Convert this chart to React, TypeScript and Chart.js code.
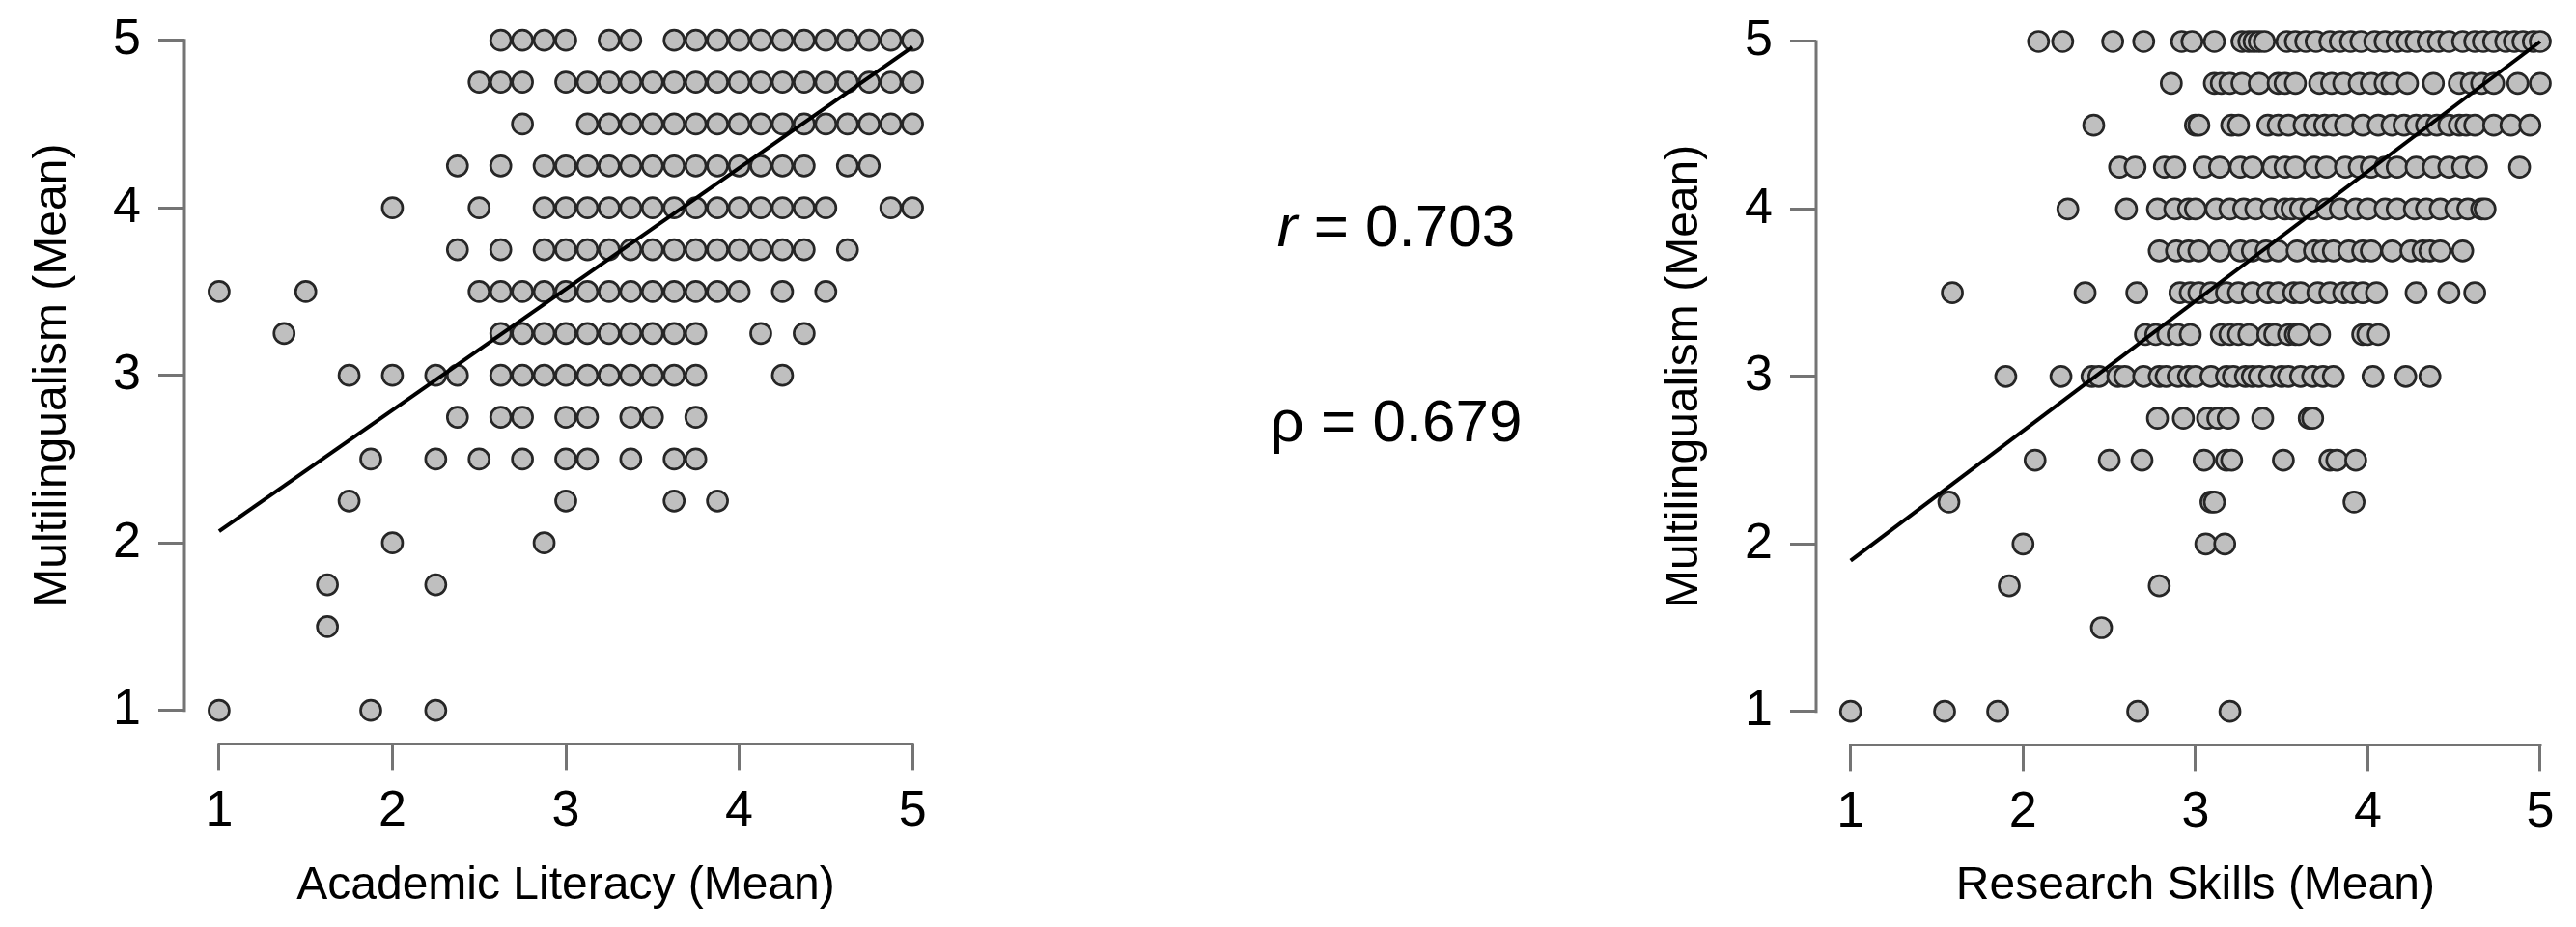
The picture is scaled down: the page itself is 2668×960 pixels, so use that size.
import React, { useEffect, useRef } from 'react';
import { Chart, registerables } from 'chart.js';

Chart.register(...registerables);

const FONT = '"Liberation Sans", Arial, Helvetica, sans-serif';

// Multilingualism (Mean) levels — one row of points per level
const multilingualismLevels = [5, 4.75, 4.5, 4.25, 4, 3.75, 3.5, 3.25, 3, 2.75, 2.5, 2.25, 2, 1.75, 1.5, 1.25, 1];

// Academic Literacy (Mean) values for each multilingualism level (left panel)
const academicLiteracyByLevel: number[][] = [
  [2.625, 2.75, 2.875, 3.0, 3.25, 3.375, 3.625, 3.75, 3.875, 4.0, 4.125, 4.25, 4.375, 4.5, 4.625, 4.75, 4.875, 5.0],
  [2.5, 2.625, 2.75, 3.0, 3.125, 3.25, 3.375, 3.5, 3.625, 3.75, 3.875, 4.0, 4.125, 4.25, 4.375, 4.5, 4.625, 4.75, 4.875, 5.0],
  [2.75, 3.125, 3.25, 3.375, 3.5, 3.625, 3.75, 3.875, 4.0, 4.125, 4.25, 4.375, 4.5, 4.625, 4.75, 4.875, 5.0],
  [2.375, 2.625, 2.875, 3.0, 3.125, 3.25, 3.375, 3.5, 3.625, 3.75, 3.875, 4.0, 4.125, 4.25, 4.375, 4.625, 4.75],
  [2.0, 2.5, 2.875, 3.0, 3.125, 3.25, 3.375, 3.5, 3.625, 3.75, 3.875, 4.0, 4.125, 4.25, 4.375, 4.5, 4.875, 5.0],
  [2.375, 2.625, 2.875, 3.0, 3.125, 3.25, 3.375, 3.5, 3.625, 3.75, 3.875, 4.0, 4.125, 4.25, 4.375, 4.625],
  [1.0, 1.5, 2.5, 2.625, 2.75, 2.875, 3.0, 3.125, 3.25, 3.375, 3.5, 3.625, 3.75, 3.875, 4.0, 4.25, 4.5],
  [1.375, 2.625, 2.75, 2.875, 3.0, 3.125, 3.25, 3.375, 3.5, 3.625, 3.75, 4.125, 4.375],
  [1.75, 2.0, 2.25, 2.375, 2.625, 2.75, 2.875, 3.0, 3.125, 3.25, 3.375, 3.5, 3.625, 3.75, 4.25],
  [2.375, 2.625, 2.75, 3.0, 3.125, 3.375, 3.5, 3.75],
  [1.875, 2.25, 2.5, 2.75, 3.0, 3.125, 3.375, 3.625, 3.75],
  [1.75, 3.0, 3.625, 3.875],
  [2.0, 2.875],
  [1.625, 2.25],
  [1.625],
  [],
  [1.0, 1.875, 2.25],
];

// Research Skills (Mean) values for each multilingualism level (right panel)
const researchSkillsByLevel: number[][] = [
  [2.09, 2.23, 2.52, 2.7, 2.92, 2.98, 3.11, 3.27, 3.31, 3.34, 3.37, 3.4, 3.53, 3.58, 3.64, 3.7, 3.78, 3.84, 3.9, 3.96, 4.04, 4.1, 4.17, 4.23, 4.28, 4.35, 4.41, 4.47, 4.55, 4.62, 4.67, 4.73, 4.8, 4.85, 4.9, 4.96, 5.0],
  [2.86, 3.11, 3.15, 3.2, 3.27, 3.37, 3.48, 3.52, 3.58, 3.72, 3.79, 3.86, 3.95, 4.02, 4.1, 4.14, 4.23, 4.38, 4.53, 4.6, 4.66, 4.73, 4.87, 5.0],
  [2.41, 3.0, 3.02, 3.21, 3.25, 3.42, 3.48, 3.54, 3.63, 3.69, 3.75, 3.8, 3.87, 3.97, 4.06, 4.14, 4.21, 4.28, 4.34, 4.4, 4.47, 4.53, 4.57, 4.62, 4.73, 4.83, 4.94],
  [2.56, 2.65, 2.82, 2.88, 3.05, 3.14, 3.26, 3.33, 3.45, 3.52, 3.58, 3.69, 3.76, 3.87, 3.95, 4.02, 4.1, 4.17, 4.28, 4.38, 4.47, 4.55, 4.63, 4.88],
  [2.26, 2.6, 2.78, 2.88, 2.96, 3.0, 3.12, 3.2, 3.28, 3.35, 3.44, 3.52, 3.56, 3.61, 3.67, 3.76, 3.84, 3.93, 4.0, 4.1, 4.17, 4.27, 4.34, 4.42, 4.51, 4.58, 4.66, 4.68],
  [2.79, 2.89, 2.96, 3.02, 3.14, 3.26, 3.33, 3.41, 3.48, 3.59, 3.69, 3.74, 3.8, 3.89, 3.97, 4.02, 4.14, 4.25, 4.32, 4.36, 4.42, 4.55],
  [1.59, 2.36, 2.66, 2.91, 2.97, 3.02, 3.09, 3.18, 3.25, 3.33, 3.42, 3.48, 3.57, 3.61, 3.71, 3.78, 3.86, 3.91, 3.97, 4.05, 4.28, 4.47, 4.62],
  [2.71, 2.77, 2.84, 2.9, 2.97, 3.15, 3.2, 3.25, 3.31, 3.42, 3.46, 3.54, 3.58, 3.6, 3.72, 3.97, 4.0, 4.06],
  [1.9, 2.22, 2.4, 2.44, 2.55, 2.59, 2.7, 2.79, 2.83, 2.9, 2.96, 3.0, 3.09, 3.18, 3.22, 3.29, 3.33, 3.37, 3.43, 3.5, 3.54, 3.61, 3.68, 3.74, 3.8, 4.03, 4.22, 4.36],
  [2.78, 2.93, 3.07, 3.13, 3.19, 3.39, 3.66, 3.68],
  [2.07, 2.5, 2.69, 3.05, 3.18, 3.21, 3.51, 3.78, 3.82, 3.93],
  [1.57, 3.09, 3.11, 3.92],
  [2.0, 3.06, 3.17],
  [1.92, 2.79],
  [2.455],
  [],
  [1.0, 1.545, 1.853, 2.665, 3.2],
];

const axisTicks = [1, 2, 3, 4, 5];
const axisTickLabels = ['1', '2', '3', '4', '5'];

const academicFitX = [1, 5];
const academicFitY = [2.07, 4.96];
const researchFitX = [1, 5];
const researchFitY = [1.9, 5.0];

const pearsonR = '0.703';
const spearmanRho = '0.679';

const AXIS_COLOR = '#747474';

const rAxisLines = {
  id: 'rAxisLines',
  afterDraw(chart: any) {
    const { ctx, chartArea, scales } = chart;
    const xs = scales.x;
    const ys = scales.y;
    ctx.save();
    ctx.strokeStyle = AXIS_COLOR;
    ctx.lineWidth = 3;
    ctx.beginPath();
    ctx.moveTo(xs.getPixelForValue(axisTicks[0]) - 1.5, chartArea.bottom);
    ctx.lineTo(xs.getPixelForValue(axisTicks[axisTicks.length - 1]) + 1.5, chartArea.bottom);
    ctx.moveTo(chartArea.left, ys.getPixelForValue(axisTicks[0]) + 1.5);
    ctx.lineTo(chartArea.left, ys.getPixelForValue(axisTicks[axisTicks.length - 1]) - 1.5);
    ctx.stroke();
    ctx.restore();
  },
};

type PanelProps = {
  left: number;
  width: number;
  padTop: number;
  padRight: number;
  xAxisHeight: number;
  xTitle: string;
  xByLevel: number[][];
  fitX: number[];
  fitY: number[];
};

function ScatterPanel(p: PanelProps) {
  const ref = useRef<HTMLCanvasElement | null>(null);
  useEffect(() => {
    if (!ref.current) return;
    const points = multilingualismLevels.flatMap((lv, i) => p.xByLevel[i].map((x) => ({ x, y: lv })));
    const fit = p.fitX.map((x, i) => ({ x, y: p.fitY[i] }));
    const chart = new Chart(ref.current, {
      type: 'scatter',
      data: {
        datasets: [
          {
            data: fit,
            showLine: true,
            borderColor: '#000000',
            borderWidth: 4,
            pointRadius: 0,
            order: 0,
          } as any,
          {
            data: points,
            pointRadius: 10.5,
            pointBackgroundColor: '#bfbfbf',
            pointBorderColor: '#262626',
            pointBorderWidth: 2.7,
            order: 1,
          } as any,
        ],
      },
      options: {
        responsive: false,
        animation: false,
        devicePixelRatio: 1,
        events: [],
        layout: { autoPadding: false, padding: { top: p.padTop, right: p.padRight, left: 0, bottom: 0 } },
        plugins: { legend: { display: false }, tooltip: { enabled: false } },
        scales: {
          x: {
            type: 'linear',
            min: 0.8,
            max: 5.2,
            bounds: 'data',
            afterBuildTicks: (s: any) => {
              s.ticks = axisTicks.map((v) => ({ value: v }));
            },
            afterFit: (s: any) => {
              s.height = p.xAxisHeight;
              s.paddingLeft = 0;
              s.paddingRight = 0;
            },
            grid: { drawOnChartArea: false, drawTicks: true, tickLength: 27, color: AXIS_COLOR, lineWidth: 3 },
            border: { display: false },
            ticks: {
              autoSkip: false,
              maxRotation: 0,
              padding: 12,
              color: '#000000',
              font: { family: FONT, size: 52 },
              callback: (_v: any, i: number) => axisTickLabels[i],
            },
            title: {
              display: true,
              text: p.xTitle,
              color: '#000000',
              font: { family: FONT, size: 48 },
              padding: { top: 0, bottom: 13 },
            },
          },
          y: {
            type: 'linear',
            min: 0.8,
            max: 5.2,
            bounds: 'data',
            afterBuildTicks: (s: any) => {
              s.ticks = axisTicks.map((v) => ({ value: v }));
            },
            afterFit: (s: any) => {
              s.width = 191;
              s.paddingTop = 0;
              s.paddingBottom = 0;
            },
            grid: { drawOnChartArea: false, drawTicks: true, tickLength: 27, color: AXIS_COLOR, lineWidth: 3 },
            border: { display: false },
            ticks: {
              autoSkip: false,
              padding: 18,
              color: '#000000',
              font: { family: FONT, size: 52 },
              callback: (_v: any, i: number) => axisTickLabels[i],
            },
            title: {
              display: true,
              text: 'Multilingualism (Mean)',
              color: '#000000',
              font: { family: FONT, size: 48 },
              padding: { top: 26, bottom: 0 },
            },
          },
        },
      } as any,
      plugins: [rAxisLines],
    });
    return () => chart.destroy();
  }, []);
  return (
    <canvas
      ref={ref}
      width={p.width}
      height={960}
      style={{ position: 'absolute', left: p.left, top: 0, width: p.width, height: 960, display: 'block' }}
    />
  );
}

export default function App() {
  const statStyle: React.CSSProperties = {
    position: 'absolute',
    left: 1246,
    width: 400,
    textAlign: 'center',
    fontFamily: FONT,
    fontSize: 62,
    lineHeight: '62px',
    color: '#000000',
    whiteSpace: 'nowrap',
  };
  return (
    <div style={{ position: 'absolute', left: 0, top: 0, width: 2668, height: 960, background: '#ffffff', overflow: 'hidden' }}>
      <ScatterPanel
        left={0}
        width={1000}
        padTop={7}
        padRight={19}
        xAxisHeight={189.6}
        xTitle="Academic Literacy (Mean)"
        xByLevel={academicLiteracyByLevel}
        fitX={academicFitX}
        fitY={academicFitY}
      />
      <div style={{ ...statStyle, top: 203 }}>
        <span style={{ fontStyle: 'italic' }}>r</span> = {pearsonR}
      </div>
      <div style={{ ...statStyle, top: 405 }}>ρ = {spearmanRho}</div>
      <ScatterPanel
        left={1690}
        width={978}
        padTop={8.3}
        padRight={1.3}
        xAxisHeight={188.6}
        xTitle="Research Skills (Mean)"
        xByLevel={researchSkillsByLevel}
        fitX={researchFitX}
        fitY={researchFitY}
      />
    </div>
  );
}
